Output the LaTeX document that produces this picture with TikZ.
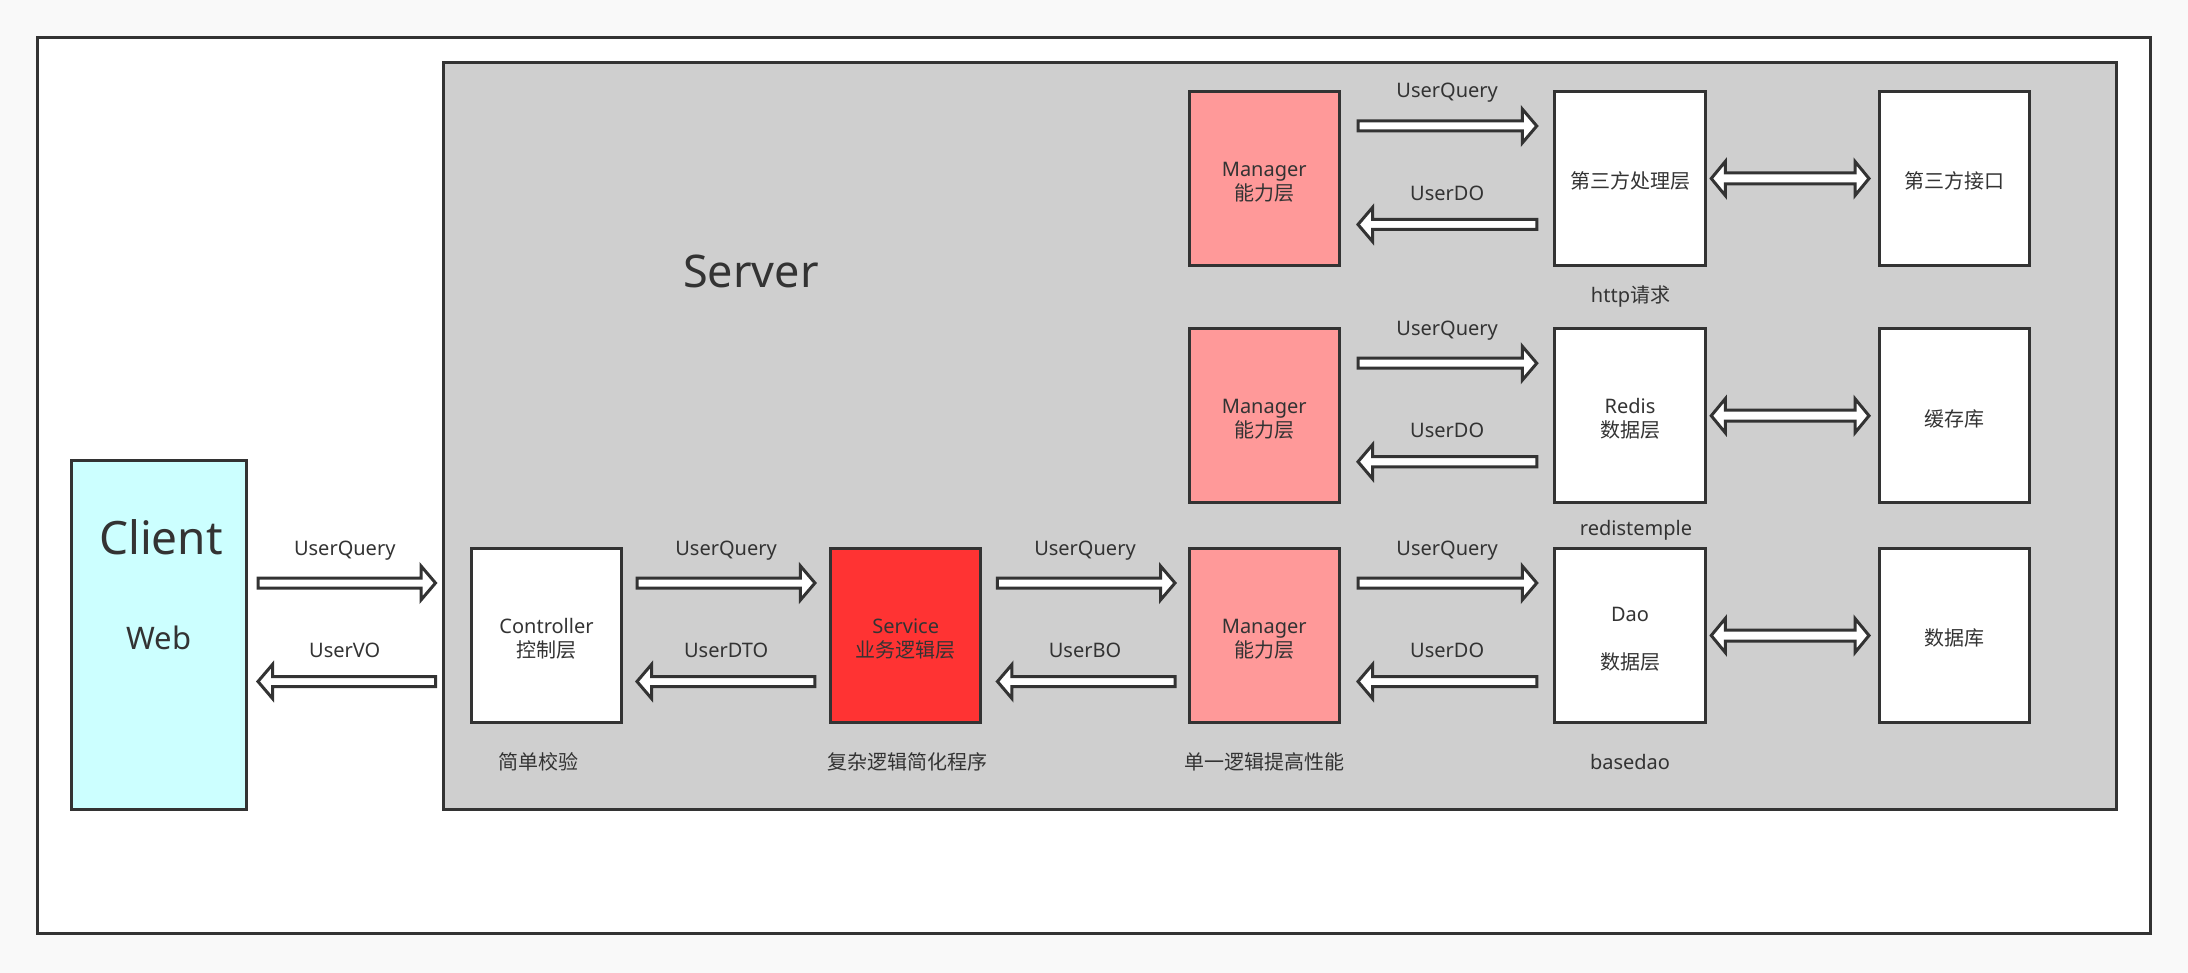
\documentclass[tikz,border=0pt]{standalone}
\usepackage{fontspec}
\setmainfont{Noto Sans}
\newfontfamily\cj{Noto Sans CJK SC}
\usetikzlibrary{calc}
\definecolor{ln}{HTML}{333333}
\definecolor{bgout}{HTML}{F9F9F9}
\definecolor{srvgray}{HTML}{CFCFCF}
\definecolor{clicyan}{HTML}{CCFFFF}
\definecolor{mgrpink}{HTML}{FF9999}
\definecolor{svcred}{HTML}{FF3333}
\newcommand\tstr{\rule{0pt}{22pt}}
\newcommand\cstr{\rule{0pt}{22.5pt}}
\begin{document}
\begin{tikzpicture}[x=1pt,y=-1pt,
  every node/.style={text=ln, font=\fontsize{20}{24}\selectfont},
  box/.style={draw=ln, line width=3pt, fill=white, minimum width=150.5pt, minimum height=174pt, inner sep=0pt, align=center},
  lab/.style={anchor=base, inner sep=0pt},
  fat/.style={draw=ln, fill=white, line width=3pt, to path={
    let \p1=(\tikztostart), \p2=(\tikztotarget), \n1={ifthenelse(\x2>\x1,14.5,-14.5)} in
    ({\x1},{\y1+5pt}) -- ({\x2-(\n1)},{\y1+5pt}) -- ({\x2-(\n1)},{\y1+17pt}) -- ({\x2},{\y1})
    -- ({\x2-(\n1)},{\y1-17pt}) -- ({\x2-(\n1)},{\y1-5pt}) -- ({\x1},{\y1-5pt}) -- cycle}},
  fatboth/.style={draw=ln, fill=white, line width=3pt, to path={
    let \p1=(\tikztostart), \p2=(\tikztotarget), \n1={ifthenelse(\x2>\x1,14,-14)} in
    ({\x1},{\y1}) -- ({\x1+(\n1)},{\y1+17pt}) -- ({\x1+(\n1)},{\y1+5.5pt}) -- ({\x2-(\n1)},{\y1+5.5pt})
    -- ({\x2-(\n1)},{\y1+17pt}) -- ({\x2},{\y1}) -- ({\x2-(\n1)},{\y1-17pt}) -- ({\x2-(\n1)},{\y1-5.5pt})
    -- ({\x1+(\n1)},{\y1-5.5pt}) -- ({\x1+(\n1)},{\y1-17pt}) -- cycle}}
]
\useasboundingbox (0,0) rectangle (2188,973);
\fill[bgout] (0,0) rectangle (2188,973);
\draw[draw=ln, line width=3pt, fill=white] (37.5,37.5) rectangle (2150.5,933.5);

% containers
\node[draw=ln, line width=3pt, fill=srvgray, minimum width=1673pt, minimum height=746.5pt, inner sep=0pt] (server) at (1280,436.25) {};
\node[draw=ln, line width=3pt, fill=clicyan, minimum width=175pt, minimum height=349pt, inner sep=0pt] (client) at (158.5,635) {};
\node[lab, font=\fontsize{46}{50}\selectfont] (clientt) at (161,554) {Client};
\node[lab, font=\fontsize{31}{36}\selectfont] (webt) at (159,649.3) {Web};
\node[lab, font=\fontsize{45}{50}\selectfont] (servert) at (751,287.3) {Server};

% row 3
\node[box] (ctrl) at (546.5,635.5) {\tstr Controller\\{\cj 控制层}};
\node[box, fill=svcred] (svc) at (905.7,635.5) {\tstr Service\\{\cj 业务逻辑层}};
\node[box, fill=mgrpink] (mgrC) at (1264.25,635.5) {\tstr Manager\\{\cj 能力层}};
\node[box] (dao) at (1630,635.5) {\tstr Dao\\[24pt]{\cj 数据层}};
\node[box] (db) at (1954.25,635.5) {\cstr\cj 数据库};
% row 2
\node[box, fill=mgrpink] (mgrB) at (1264.25,415.75) {\tstr Manager\\{\cj 能力层}};
\node[box] (redis) at (1630,415.75) {\tstr Redis\\{\cj 数据层}};
\node[box] (cache) at (1954.25,415.75) {\cstr\cj 缓存库};
% row 1
\node[box, fill=mgrpink] (mgrA) at (1264.25,178.5) {\tstr Manager\\{\cj 能力层}};
\node[box] (third) at (1630,178.5) {\cstr\cj 第三方处理层};
\node[box] (api) at (1954.25,178.5) {\cstr\cj 第三方接口};

% client <-> server
\coordinate (c0a) at ($(client.east)+(10.5,-52)$);
\coordinate (c0b) at ($(server.west |- client.east)+(-6.5,-52)$);
\coordinate (c0c) at ($(server.west |- client.east)+(-6.5,46.5)$);
\coordinate (c0d) at ($(client.east)+(10.5,46.5)$);
\draw[fat] (c0a) to (c0b);
\draw[fat] (c0c) to (c0d);
\node[lab] (l0a) at ($(client.east)!0.5!(server.west |- client.east)+(0,-80)$) {UserQuery};
\node[lab] (l0b) at ($(client.east)!0.5!(server.west |- client.east)+(0,22.5)$) {UserVO};

% ctrl <-> svc
\coordinate (c1a) at ($(ctrl.east)+(13.75,-52.5)$);
\coordinate (c1b) at ($(svc.west)+(-14,-52.5)$);
\coordinate (c1c) at ($(svc.west)+(-14,46)$);
\coordinate (c1d) at ($(ctrl.east)+(13.75,46)$);
\draw[fat] (c1a) to (c1b);
\draw[fat] (c1c) to (c1d);
\node[lab] (l1a) at ($(ctrl.east)!0.5!(svc.west)+(0,-80.5)$) {UserQuery};
\node[lab] (l1b) at ($(ctrl.east)!0.5!(svc.west)+(0,22)$) {UserDTO};

% svc <-> mgrC
\coordinate (c2a) at ($(svc.east)+(15,-52.5)$);
\coordinate (c2b) at ($(mgrC.west)+(-12.5,-52.5)$);
\coordinate (c2c) at ($(mgrC.west)+(-12.5,46)$);
\coordinate (c2d) at ($(svc.east)+(15,46)$);
\draw[fat] (c2a) to (c2b);
\draw[fat] (c2c) to (c2d);
\node[lab] (l2a) at ($(svc.east)!0.5!(mgrC.west)+(0,-80.5)$) {UserQuery};
\node[lab] (l2b) at ($(svc.east)!0.5!(mgrC.west)+(0,22)$) {UserBO};

% managers <-> data layers
\foreach \m/\d/\s/\r in {mgrA/third/api/a, mgrB/redis/cache/b, mgrC/dao/db/c}{
  \coordinate (m\r a) at ($(\m.east)+(17,-52.5)$);
  \coordinate (m\r b) at ($(\d.west)+(-16.5,-52.5)$);
  \coordinate (m\r c) at ($(\d.west)+(-16.5,46)$);
  \coordinate (m\r d) at ($(\m.east)+(17,46)$);
  \draw[fat] (m\r a) to (m\r b);
  \draw[fat] (m\r c) to (m\r d);
  \node[lab] (q\r) at ($(\m.east)!0.5!(\d.west)+(0,-80.5)$) {UserQuery};
  \node[lab] (o\r) at ($(\m.east)!0.5!(\d.west)+(0,22)$) {UserDO};
  \coordinate (s\r a) at ($(\d.east)+(4.5,0)$);
  \coordinate (s\r b) at ($(\s.west)+(-8.5,0)$);
  \draw[fatboth] (s\r a) to (s\r b);
}

% captions
\node[lab] (cap1) at (538.8,769) {\cj 简单校验};
\node[lab] (cap2) at (907,769) {\cj 复杂逻辑简化程序};
\node[lab] (cap3) at (1264.7,769) {\cj 单一逻辑提高性能};
\node[lab] (cap4) at (1630,769.3) {basedao};
\node[lab] (cap5) at (1636,535) {redistemple};
\node[lab] (cap6) at (1630.5,303) {http{\cj 请求}};
\end{tikzpicture}
\end{document}
